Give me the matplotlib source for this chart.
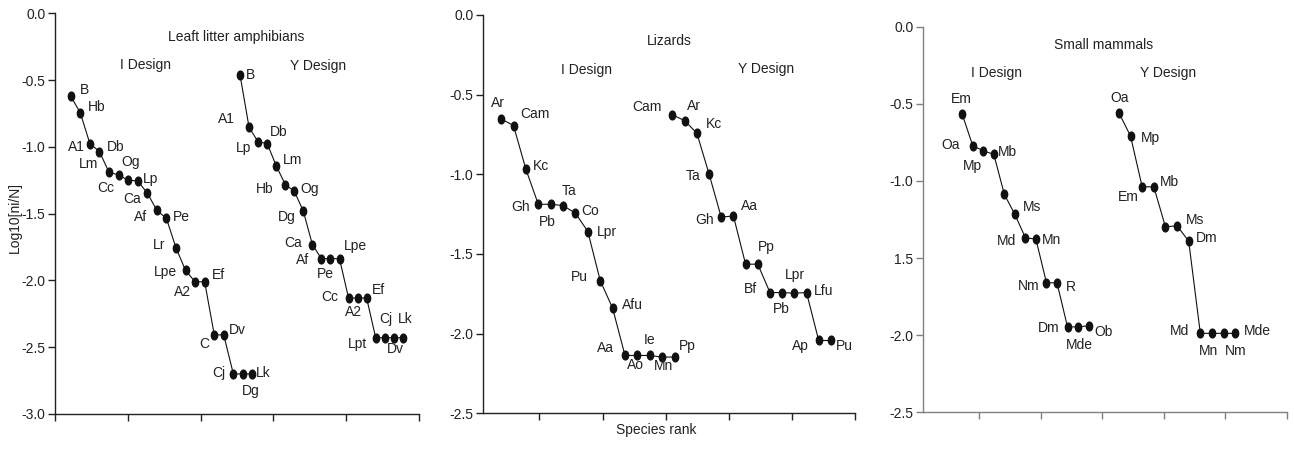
import numpy as np
import matplotlib.pyplot as plt
from matplotlib.path import Path
from matplotlib.transforms import Affine2D

plt.rcParams['font.family'] = ['Liberation Sans', 'DejaVu Sans']
plt.rcParams['font.size'] = 10

# ---- data (log10 relative abundance by species rank) ----
amph_i_labels = ['B', 'Hb', 'A1', 'Db', 'Lm', 'Cc', 'Og', 'Lp', 'Ca', 'Af', 'Pe', 'Lr', 'Lpe',
                 'A2', 'Ef', 'C', 'Dv', 'Cj', 'Dg', 'Lk']
amph_i_vals = [-0.62, -0.745, -0.975, -1.035, -1.19, -1.21, -1.25, -1.255, -1.345, -1.475, -1.535,
               -1.755, -1.925, -2.01, -2.01, -2.405, -2.41, -2.70, -2.70, -2.70]
amph_y_labels = ['B', 'A1', 'Lp', 'Db', 'Lm', 'Hb', 'Og', 'Dg', 'Ca', 'Af', 'Pe', 'Lpe', 'Cc',
                 'A2', 'Ef', 'Lpt', 'Cj', 'Dv', 'Lk']
amph_y_vals = [-0.4625, -0.855, -0.9625, -0.975, -1.142, -1.282, -1.332, -1.482, -1.732, -1.837,
               -1.837, -1.837, -2.132, -2.132, -2.132, -2.429, -2.429, -2.429, -2.429]

liz_i_labels = ['Ar', 'Cam', 'Kc', 'Gh', 'Pb', 'Ta', 'Co', 'Lpr', 'Pu', 'Afu', 'Aa', 'Ao', 'Ie',
                'Mn', 'Pp']
liz_i_vals = [-0.652, -0.694, -0.968, -1.188, -1.188, -1.196, -1.244, -1.359, -1.667, -1.84,
              -2.137, -2.137, -2.137, -2.147, -2.147]
liz_y_labels = ['Cam', 'Ar', 'Kc', 'Ta', 'Gh', 'Aa', '', 'Pp', 'Bf', 'Pb', 'Lpr', 'Lfu', 'Ap', 'Pu']
liz_y_vals = [-0.627, -0.663, -0.742, -0.997, -1.269, -1.261, -1.564, -1.564, -1.742, -1.742,
              -1.746, -1.742, -2.043, -2.043]

mam_i_labels = ['Em', 'Oa', 'Mp', 'Mb', '', 'Ms', 'Md', 'Mn', 'Nm', 'R', 'Dm', 'Mde', 'Ob']
mam_i_vals = [-0.568, -0.772, -0.804, -0.828, -1.087, -1.217, -1.368, -1.377, -1.66, -1.66,
              -1.946, -1.946, -1.939]
mam_y_labels = ['Oa', 'Mp', 'Em', 'Mb', '', 'Ms', 'Dm', 'Md', 'Mn', 'Nm', 'Mde']
mam_y_vals = [-0.558, -0.709, -1.038, -1.038, -1.297, -1.291, -1.39, -1.988, -1.988, -1.988, -1.988]

# ---- label placement (pixel offsets from each point) ----
amph_i_off = [(13.6, 6.4), (16.4, 6), (-13.3, -3.4), (16.7, 5), (-20.3, 8), (-13, -13.4), (3, 18.6),
              (12.7, 2), (-15.3, -5.6), (-16, -6.7), (15, 1.3), (-17, 2.7), (-20, -1.4),
              (-12.3, -10.4), (14.3, 6.3), (-10.3, -9), (13.4, 5), (-14.4, 0.6), (7.6, -17.4), (11, 0.6)]
amph_y_off = [(10.7, 0), (-22.6, 8.3), (-15, -6), (12, 11.6), (16, 5.7), (-21, -4.4), (15, 1.7),
              (-17, -5.7), (-19.6, 1.6), (-18.6, -1.7), (-5, -15.7), (16, 12.6), (-18.6, 1),
              (-4.3, -14), (12.3, 8.4), (-18.6, -6), (0.7, 19), (1.3, -11), (2.3, 19)]
liz_i_off = [(-3.3, 15.7), (21, 11.4), (14.7, 3.6), (-17.7, -2.4), (-3, -17.4), (6.3, 15), (14.7, 2.6),
             (19, -0.6), (-20.7, 4), (19.4, 3.3), (-19.3, 7.4), (-2, -10), (0, 15), (1.5, -9), (12.4, 10.6)]
liz_y_off = [(-25.6, 8.3), (9.3, 15), (17.6, 9), (-15.7, -2), (-17, -2.7), (15.7, 10.3), (0, 0),
             (9, 17.6), (-19, 3.4), (-0.6, -16.6), (0.6, 18.3), (16.7, 1.7), (-18.3, -5.3), (13.6, -6)]
mam_i_off = [(-0.6, 15.3), (-22.6, 0.7), (-11, -15), (14, 2.6), (0, 0), (17, 7), (-19, -3.3),
             (15.7, -1), (-17.4, -3.3), (13.4, -4.6), (-19, -1.6), (1, -18.3), (14.6, -6)]
mam_y_off = [(1, 15), (19.7, -2.3), (-14, -10), (15.7, 5), (0, 0), (18, 5.7), (18, 3.3),
             (-20.7, 2.6), (-3.7, -17.4), (12.4, -17.4), (22.4, 2.6)]

ink = '#222222'
ellipse = Path.unit_circle().transformed(Affine2D().scale(0.72, 1.0))

fig = plt.figure(figsize=(12.94, 4.49), dpi=100)

panels = [
    dict(rect=[0.0425, 0.078, 0.2813, 0.8924], xlim=(0, 25), ylim=(-3.0, 0.0),
         yticks=[-3.0, -2.5, -2.0, -1.5, -1.0, -0.5, 0.0], ylabels=None, spine=ink,
         title='Leaft litter amphibians', tpos=(0.4986, 0.9416), ipos=(0.25, 0.871), ypos=(0.7234, 0.869),
         series=[(amph_i_labels, amph_i_vals, amph_i_off, 1.08, 0.657),
                 (amph_y_labels, amph_y_vals, amph_y_off, 12.71, 0.621)]),
    dict(rect=[0.3735, 0.0795, 0.2873, 0.8871], xlim=(-4.44, 25), ylim=(-2.5, 0.0),
         yticks=[-2.5, -2.0, -1.5, -1.0, -0.5, 0.0], ylabels=None, spine=ink,
         title='Lizards', tpos=(0.4996, 0.9355), ipos=(0.2782, 0.8619), ypos=(0.7606, 0.8644),
         series=[(liz_i_labels, liz_i_vals, liz_i_off, -3.03, 0.981),
                 (liz_y_labels, liz_y_vals, liz_y_off, 10.54, 0.965)]),
    dict(rect=[0.7135, 0.0817, 0.2808, 0.8588], xlim=(-4.55, 25), ylim=(-2.5, 0.0),
         yticks=[-2.5, -2.0, -1.5, -1.0, -0.5, 0.0],
         ylabels=['-2.5', '-2.0', '1.5', '-1.0', '-0.5', '0.0'], spine='#808080',
         title='Small mammals', tpos=(0.4964, 0.9525), ipos=(0.202, 0.8807), ypos=(0.6742, 0.8791),
         series=[(mam_i_labels, mam_i_vals, mam_i_off, -1.38, 0.856),
                 (mam_y_labels, mam_y_vals, mam_y_off, 11.36, 0.946)]),
]

for p in panels:
    ax = fig.add_axes(p['rect'])
    for labels, vals, offs, x0, dx in p['series']:
        rank = np.arange(len(vals))
        x = x0 + dx * rank
        ax.plot(x, vals, color='#111111', lw=0.8, marker=ellipse, ms=6.3,
                mfc='#111111', mec='#111111', clip_on=False)
        for xi, yi, lab, off in zip(x, vals, labels, offs):
            if lab:
                ax.annotate(lab, (xi, yi), xytext=off, textcoords='offset pixels',
                            ha='center', va='center', fontsize=10, color=ink)
    ax.text(*p['tpos'], p['title'], transform=ax.transAxes, ha='center', va='center', color=ink)
    ax.text(*p['ipos'], 'I Design', transform=ax.transAxes, ha='center', va='center', color=ink)
    ax.text(*p['ypos'], 'Y Design', transform=ax.transAxes, ha='center', va='center', color=ink)

    ax.set_xlim(*p['xlim'])
    ax.set_ylim(*p['ylim'])
    ax.set_xticks([0, 5, 10, 15, 20, 25])
    ax.set_xticklabels([])
    ax.set_yticks(p['yticks'])
    if p['ylabels'] is None:
        ax.set_yticklabels(['%.1f' % v for v in p['yticks']])
    else:
        ax.set_yticklabels(p['ylabels'])
    for s in ['top', 'right']:
        ax.spines[s].set_visible(False)
    for s in ['left', 'bottom']:
        ax.spines[s].set_color(p['spine'])
        ax.spines[s].set_linewidth(1.0)
    ax.tick_params(direction='out', length=5, width=1.0, color=p['spine'],
                   labelsize=10, labelcolor=ink, pad=2)
    ax.patch.set_visible(False)

fig.text(15 / 1294, 1 - 217 / 449, 'Log10[ni/N]', rotation=90, ha='center', va='center',
         fontsize=10, color=ink)
fig.text(656 / 1294, 1 - 430 / 449, 'Species rank', ha='center', va='center', fontsize=10, color=ink)

fig.savefig('out.png', dpi=100)
